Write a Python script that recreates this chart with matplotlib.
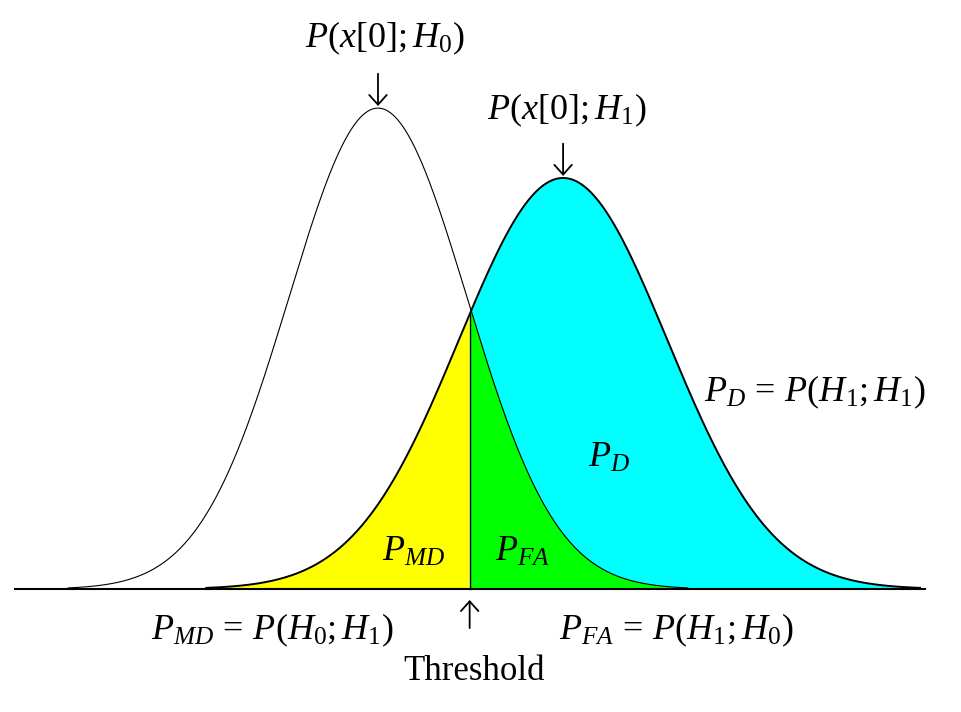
import numpy as np
import matplotlib
matplotlib.use("Agg")
import matplotlib.pyplot as plt

plt.rcParams["mathtext.fontset"] = "custom"
plt.rcParams["mathtext.rm"] = "Liberation Serif"
plt.rcParams["mathtext.it"] = "Liberation Serif:italic"
plt.rcParams["font.family"] = "Liberation Serif"

# hypothesis densities (x in units of sigma of H0)
hyp_names = ["H0", "H1"]
means = [0.0, 2.08]
sigmas = [1.0, 1.17]
x_ranges = [(-3.48, 3.48), (-1.93, 6.09)]
threshold = 1.03
axis_range = (-4.08, 6.15)

colors = {"md": "#ffff00", "fa": "#00ff00", "d": "#00ffff"}


def gauss(x, mu, sd):
    return np.exp(-0.5 * ((x - mu) / sd) ** 2) / (sd * np.sqrt(2 * np.pi))


fig = plt.figure(figsize=(9.62, 7.12), dpi=100)
ax = fig.add_axes([0, 0, 1, 1])
ax.set_xlim(-4.247, 6.562)
ax.set_ylim(-0.1020, 0.4886)
ax.axis("off")

x0 = np.linspace(*x_ranges[0], 800)
x1 = np.linspace(*x_ranges[1], 800)
p0 = gauss(x0, means[0], sigmas[0])
p1 = gauss(x1, means[1], sigmas[1])

# filled regions
ax.fill_between(x1, 0, p1, where=x1 >= threshold, color=colors["d"], lw=0, zorder=1)
ax.fill_between(x1, 0, p1, where=x1 <= threshold, color=colors["md"], lw=0, zorder=1)
ax.fill_between(x0, 0, p0, where=x0 >= threshold, color=colors["fa"], lw=0, zorder=2)

# curves
ax.plot(x1, p1, color="black", lw=1.4, zorder=3)
ax.plot(x0, p0, color="black", lw=0.8, zorder=3)
y_thr = min(gauss(threshold, means[0], sigmas[0]), gauss(threshold, means[1], sigmas[1]))
ax.plot([threshold, threshold], [0, y_thr], color="black", lw=1.0, zorder=3)
ax.plot(axis_range, [0, 0], color="black", lw=1.5, zorder=4)

arrow = dict(arrowstyle="->,head_length=0.5,head_width=0.45", lw=1.3,
             color="black", mutation_scale=14, shrinkA=0, shrinkB=0)

# peak arrows
for mu, sd in zip(means, sigmas):
    peak = gauss(mu, mu, sd)
    ax.annotate("", xy=(mu, peak + 0.0017), xytext=(mu, peak + 0.0285), arrowprops=arrow)

fs = 26
ax.text(0.079, 0.457, r"$P(x[0];H_0)$", fontsize=fs, ha="center", va="center")
ax.text(2.124, 0.397, r"$P(x[0];H_1)$", fontsize=fs, ha="center", va="center")

# threshold
ax.annotate("", xy=(threshold, -0.0091), xytext=(threshold, -0.0324), arrowprops=arrow)
ax.text(1.079, -0.068, "Threshold", fontsize=25, ha="center", va="center")

# probability labels
ax.text(-1.19, -0.034, r"$P_{MD}\,=\,P(H_0;H_1)$", fontsize=fs, ha="center", va="center")
ax.text(3.35, -0.034, r"$P_{FA}\,=\,P(H_1;H_0)$", fontsize=fs, ha="center", va="center")
ax.text(4.91, 0.163, r"$P_D\,=\,P(H_1;H_1)$", fontsize=fs, ha="center", va="center")
ax.text(0.40, 0.0307, r"$P_{MD}$", fontsize=fs, ha="center", va="center", zorder=5)
ax.text(1.63, 0.0307, r"$P_{FA}$", fontsize=fs, ha="center", va="center", zorder=5)
ax.text(2.60, 0.1087, r"$P_D$", fontsize=fs, ha="center", va="center", zorder=5)

fig.savefig("out.png", dpi=100, facecolor="white")
